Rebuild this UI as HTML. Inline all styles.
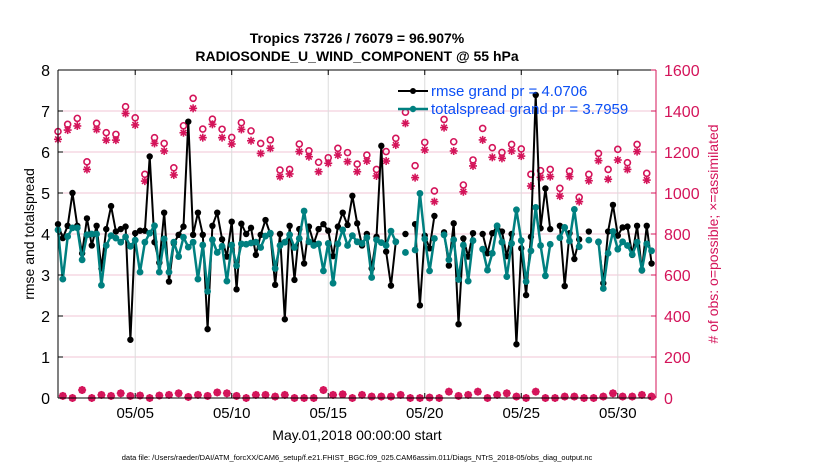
<!DOCTYPE html>
<html><head><meta charset="utf-8">
<style>
html,body{margin:0;padding:0;background:#fff;}
svg{display:block;font-family:"Liberation Sans",sans-serif;}
</style></head>
<body>
<svg id="chart" width="830" height="470" viewBox="0 0 830 470" xmlns="http://www.w3.org/2000/svg">
<g id="grid"></g>
<g id="marks"></g>
<g id="axes"></g>
<text x="357" y="43" text-anchor="middle" font-size="14" font-weight="bold">Tropics 73726 / 76079 = 96.907%</text>
<text x="357" y="61" text-anchor="middle" font-size="14" font-weight="bold">RADIOSONDE_U_WIND_COMPONENT @ 55 hPa</text>
<text x="357" y="440" text-anchor="middle" font-size="14">May.01,2018 00:00:00 start</text>
<text x="357" y="460" text-anchor="middle" font-size="7.5">data file: /Users/raeder/DAI/ATM_forcXX/CAM6_setup/f.e21.FHIST_BGC.f09_025.CAM6assim.011/Diags_NTrS_2018-05/obs_diag_output.nc</text>
<text transform="translate(34,234) rotate(-90)" text-anchor="middle" font-size="14">rmse and totalspread</text>
<text transform="translate(718,234) rotate(-90)" text-anchor="middle" font-size="14" fill="#d4145a"># of obs: o=possible; ×=assimilated</text>
<g>
 <g>
  <line x1="398" y1="91" x2="428" y2="91" stroke="#000" stroke-width="2"/>
  <circle cx="413" cy="91" r="3" fill="#000"/>
  <text x="431" y="96" font-size="15" fill="#0b4ff5">rmse grand pr = 4.0706</text>
 </g>
 <g>
  <line x1="398" y1="109" x2="428" y2="109" stroke="#008080" stroke-width="2.5"/>
  <circle cx="413" cy="109" r="3.2" fill="#008080"/>
  <text x="431" y="114" font-size="15" fill="#0b4ff5">totalspread grand pr = 3.7959</text>
 </g>
</g>
</svg>
<script>
const rmse=[4.24,3.9,4.2,5.0,4.2,3.53,4.38,3.72,4.2,3.16,4.12,4.68,4.06,4.12,4.18,1.42,4.02,4.08,4.08,5.89,3.8,3.3,4.52,2.84,3.77,3.98,4.18,6.74,3.98,4.52,3.98,1.68,4.2,4.52,3.87,3.45,4.3,2.65,4.25,4.0,4.15,3.49,3.98,4.34,4.0,2.76,4.0,1.92,4.2,2.88,4.12,3.28,4.18,3.77,4.12,4.24,4.08,3.46,4.18,4.52,4.22,4.93,4.26,3.72,4.0,3.16,3.93,6.15,3.57,2.74,3.81,null,4.0,null,4.24,2.26,3.96,3.65,4.44,null,4.04,3.23,4.26,1.8,3.89,3.45,4.02,null,4.0,3.53,4.02,4.18,4.06,3.46,4.0,1.31,3.65,2.51,3.93,7.39,4.14,5.11,4.12,null,4.2,2.73,4.02,3.39,3.87,null,4.06,null,3.8,2.8,4.06,4.71,3.96,4.16,4.18,3.49,4.2,3.11,4.2,3.28];
const spread=[4.1,2.9,3.94,4.15,4.15,3.37,3.98,4.0,4.0,2.75,3.72,3.96,3.9,3.8,3.93,3.7,3.85,3.07,3.8,4.02,4.2,3.07,3.88,3.07,3.8,3.45,3.92,3.68,3.8,2.9,3.73,2.6,3.86,3.55,3.7,2.85,3.73,3.23,3.76,3.75,3.78,3.8,3.67,3.95,4.02,3.16,3.72,3.8,3.98,3.67,3.89,4.56,3.81,3.72,3.76,3.1,3.77,2.8,3.76,4.1,3.72,3.96,3.81,3.77,3.91,2.94,3.86,3.79,3.72,4.07,3.81,null,3.55,null,3.61,4.99,3.88,3.1,3.89,null,3.98,3.37,3.86,2.89,3.73,2.85,3.84,null,3.63,3.12,3.53,4.2,3.8,2.96,3.77,4.59,3.84,2.84,3.59,4.65,3.72,2.98,3.75,null,3.91,4.16,3.83,4.6,3.69,null,3.85,null,3.81,2.67,3.53,4.06,3.63,3.81,3.72,3.5,3.8,3.12,3.76,3.59];
// obs counts at 00Z/12Z (even samples) and 06Z/18Z (odd samples)
const possibleMain=[1300,1335,1364,1152,1340,1294,1286,1421,1367,1091,1270,1242,1123,1328,1462,1312,1360,1311,1271,1343,1303,1242,1259,1112,1115,1239,1206,1150,1172,1218,1197,1141,1185,1115,1202,1267,1394,1133,1247,1010,1359,1250,1039,1161,1315,1221,1198,1237,1215,1091,1109,1115,1023,1107,979,1091,1193,1115,1213,1148,1237,1096];
const assimMain=[1262,1307,1327,1115,1310,1258,1258,1388,1332,1058,1242,1205,1088,1294,1413,1270,1335,1270,1239,1310,1255,1193,1218,1080,1093,1202,1177,1104,1145,1185,1153,1104,1156,1083,1156,1234,1340,1075,1210,958,1319,1205,1006,1132,1259,1174,1169,1205,1180,1034,1076,1080,985,1080,958,1060,1158,1067,1161,1115,1202,1063];
const possibleOff=[10,0,39,0,15,10,23,10,12,0,12,15,23,5,15,10,27,23,10,0,15,15,7,15,0,0,0,39,15,18,0,15,7,7,7,15,0,0,2,0,31,10,15,31,0,15,23,7,0,31,0,0,7,7,0,0,7,23,7,7,15,7];
const assimOff=possibleOff;
const xTickDays=[4,9,14,19,24,29];
const xTickLabels=["05/05","05/10","05/15","05/20","05/25","05/30"];
const yLeftTicks=[0,1,2,3,4,5,6,7,8];
const yRightTicks=[0,200,400,600,800,1000,1200,1400,1600];
const stepDays=0.25;

const NS="http://www.w3.org/2000/svg";
const L=58,R=656,T=70,B=398;
const X0=0,X1=30.98;
const xs=d=>L+(d-X0)/(X1-X0)*(R-L);
const yl=v=>B-v/8*(B-T);
const yr=c=>B-c/1600*(B-T);
const RED="#d4145a",TEAL="#008080";
function mk(tag,attrs,parent){const e=document.createElementNS(NS,tag);for(const k in attrs)e.setAttribute(k,attrs[k]);parent.appendChild(e);return e;}
const grid=document.getElementById('grid'),marks=document.getElementById('marks'),axes=document.getElementById('axes');

yRightTicks.forEach(c=>{if(c===0||c===1600)return;const g=mk('line',{x1:L,x2:R,y1:yr(c),y2:yr(c),stroke:'#f0c6d6','stroke-width':1},grid);

});
xTickDays.forEach(d=>{const g=mk('line',{x1:xs(d),x2:xs(d),y1:T,y2:B,stroke:'#dcdcdc','stroke-width':1},grid);

});

function star(cx,cy,parent,name){const g=mk('g',{stroke:RED,'stroke-width':1.6},parent);


const r=4;[[0,r],[r,0],[r*0.71,r*0.71],[r*0.71,-r*0.71]].forEach(([dx,dy])=>mk('line',{x1:cx-dx,y1:cy-dy,x2:cx+dx,y2:cy+dy},g));}
function ring(cx,cy,parent,name){const c=mk('circle',{cx:cx,cy:cy,r:3,fill:'none',stroke:RED,'stroke-width':1.6},parent);

}
possibleMain.forEach((c,k)=>{ring(xs(2*k*stepDays),yr(c),marks,'possible-obs-marker');});
assimMain.forEach((c,k)=>{star(xs(2*k*stepDays),yr(c),marks,'assimilated-obs-marker');});
possibleOff.forEach((c,k)=>{const x=xs((2*k+1)*stepDays);if(x>R)return;ring(x,yr(c),marks,'possible-obs-marker');});
assimOff.forEach((c,k)=>{const x=xs((2*k+1)*stepDays);if(x>R)return;star(x,yr(c),marks,'assimilated-obs-marker');});

function series(vals,color,w,r,name){
 let d='',pen=false;
 vals.forEach((v,i)=>{if(v===null){pen=false;return;}const x=xs(i*stepDays),y=yl(v);d+=(pen?'L':'M')+x.toFixed(1)+','+y.toFixed(1);pen=true;});
 const p=mk('path',{d:d,fill:'none',stroke:color,'stroke-width':w,'stroke-linejoin':'round'},marks);
 
 
 vals.forEach((v,i)=>{if(v===null)return;const c=mk('circle',{cx:xs(i*stepDays),cy:yl(v),r:r,fill:color},marks);
 
 });
}
series(rmse,'#000',2,3.2,'rmse');
series(spread,TEAL,2.5,3.4,'totalspread');

const frame=[['line',{x1:L,x2:L,y1:T,y2:B,stroke:'#000'},'left-axis'],['line',{x1:L,x2:R,y1:B,y2:B,stroke:'#000'},'bottom-axis'],['line',{x1:L,x2:R,y1:T,y2:T,stroke:'#000'},'top-axis'],['line',{x1:R,x2:R,y1:T,y2:B,stroke:RED},'right-axis']];
frame.forEach(([t,a,n])=>{const e=mk(t,a,axes);

});
yLeftTicks.forEach(v=>{mk('line',{x1:L,x2:L+5,y1:yl(v),y2:yl(v),stroke:'#000'},axes);
const t=mk('text',{x:L-8,y:yl(v)+6,'text-anchor':'end','font-size':16},axes);t.textContent=v;

});
yRightTicks.forEach(c=>{mk('line',{x1:R-5,x2:R,y1:yr(c),y2:yr(c),stroke:RED},axes);
const t=mk('text',{x:R+8,y:yr(c)+6,'font-size':16,fill:RED},axes);t.textContent=c;

});
xTickDays.forEach((d,i)=>{mk('line',{x1:xs(d),x2:xs(d),y1:B,y2:B-5,stroke:'#000'},axes);mk('line',{x1:xs(d),x2:xs(d),y1:T,y2:T+5,stroke:'#000'},axes);
const t=mk('text',{x:xs(d),y:B+20,'text-anchor':'middle','font-size':15},axes);t.textContent=xTickLabels[i];

});
</script>
</body></html>
